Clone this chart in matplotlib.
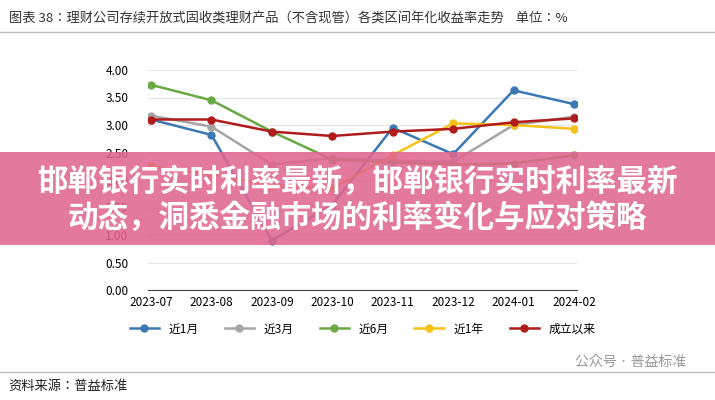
import matplotlib
matplotlib.use("Agg")
import matplotlib.pyplot as plt
from matplotlib import font_manager as fm
from matplotlib.patches import Rectangle
from matplotlib.lines import Line2D

cjk = None
for f in fm.fontManager.ttflist:
    if "CJK" in f.name and ("SC" in f.name or cjk is None):
        cjk = f.name
        if "SC" in f.name:
            break
plt.rcParams["font.family"] = [cjk or "Noto Sans CJK SC", "DejaVu Sans"]

months = ["2023-07", "2023-08", "2023-09", "2023-10", "2023-11", "2023-12", "2024-01", "2024-02"]
names = ["近1月", "近3月", "近6月", "近1年", "成立以来"]
colors = ["#3c78b4", "#a5a5a5", "#6aaa45", "#f5c21a", "#b01c1c"]
s1m = [3.10, 2.82, 0.90, 1.55, 2.95, 2.47, 3.63, 3.38]
s3m = [3.17, 2.97, 2.28, 2.40, 2.35, 2.33, 3.00, 3.15]
s6m = [3.73, 3.45, 2.88, 2.37, 2.32, 2.28, 2.30, 2.45]
s1y = [2.25, 2.10, 1.90, 1.85, 2.45, 3.03, 3.00, 2.93]
sall = [3.10, 3.10, 2.88, 2.80, 2.88, 2.93, 3.05, 3.12]
series = [s1m, s3m, s6m, s1y, sall]
yticks = [0, 0.5, 1.0, 1.5, 2.0, 2.5, 3.0, 3.5, 4.0]

fig = plt.figure(figsize=(7.15, 4.0), dpi=100)
fig.patch.set_facecolor("white")
ax = fig.add_axes([0.207, 0.275, 0.60, 0.55])
x = range(len(months))
for s, c, n in zip(series, colors, names):
    ax.plot(x, s, color=c, lw=1.8, marker="o", ms=5, label=n, zorder=3)
ax.set_ylim(0, 4.0)
ax.set_xlim(-0.05, 7.05)
ax.set_yticks(yticks)
ax.set_yticklabels([f"{v:.2f}" for v in yticks], fontsize=8.5)
ax.set_xticks(list(x))
ax.set_xticklabels(months, fontsize=8.5)
ax.grid(axis="y", color="#e6e6e6", lw=0.8)
for sp in ["top", "right", "left"]:
    ax.spines[sp].set_visible(False)
ax.spines["bottom"].set_color("#444444")
ax.tick_params(length=0)
ax.tick_params(axis="y", pad=14)
ax.tick_params(axis="x", pad=4)
ax.legend(loc="upper center", bbox_to_anchor=(0.5, -0.1), ncol=5, frameon=False,
          fontsize=8.5, handlelength=2.5, columnspacing=2.2)

fig.text(0.012, 0.955, "图表 38：理财公司存续开放式固收类理财产品（不含现管）各类区间年化收益率走势    单位：%",
         fontsize=9.5, color="#333333", va="center")
fig.add_artist(Line2D([0.0, 1.0], [0.92, 0.92], color="#bbbbbb", lw=1))
fig.add_artist(Line2D([0.0, 1.0], [0.07, 0.07], color="#bbbbbb", lw=1))
fig.text(0.012, 0.035, "资料来源：普益标准", fontsize=9.5, color="#222222", va="center")
fig.text(0.96, 0.095, "公众号 · 普益标准", fontsize=10, color="#999999", ha="right", va="center")

fig.add_artist(Rectangle((0, 0.388), 1, 0.232, transform=fig.transFigure,
                         facecolor="#e0668f", alpha=0.88, zorder=10))
fig.text(0.5, 0.545, "邯郸银行实时利率最新，邯郸银行实时利率最新", fontsize=22, color="white",
         ha="center", va="center", weight="bold", zorder=11)
fig.text(0.5, 0.455, "动态，洞悉金融市场的利率变化与应对策略", fontsize=22, color="white",
         ha="center", va="center", weight="bold", zorder=11)

fig.savefig("out.png", dpi=100)
